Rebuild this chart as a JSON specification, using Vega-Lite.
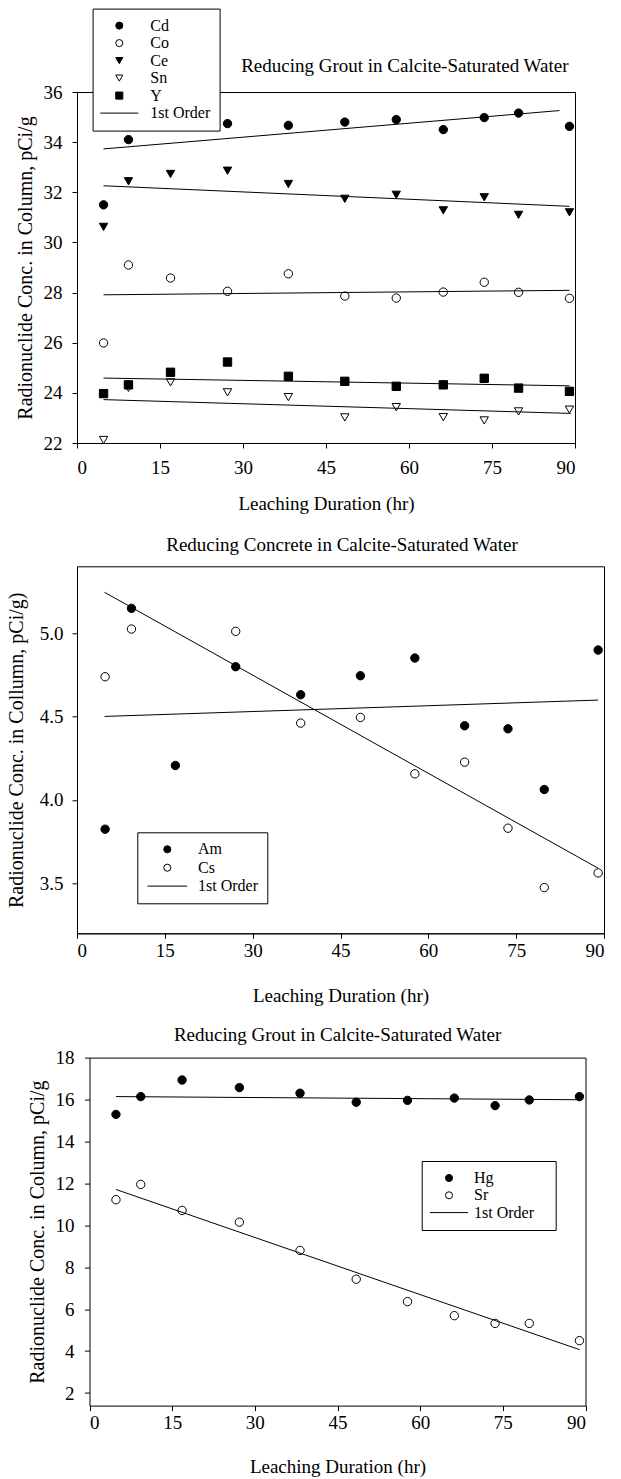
{
  "$schema": "https://vega.github.io/schema/vega-lite/v6.json",
  "background": "white",
  "padding": {"left": 5, "top": 7, "right": 0, "bottom": 0},
  "spacing": 19.3,
  "resolve": {"scale": {"shape": "independent", "fill": "independent", "stroke": "independent", "x": "independent", "y": "independent"}, "legend": {"shape": "independent", "fill": "independent", "stroke": "independent"}},
  "config": {
    "font": "Liberation Serif",
    "view": {"stroke": "black", "strokeWidth": 1},
    "axis": {"grid": false, "domainColor": "black", "tickColor": "black", "labelColor": "black", "titleColor": "black", "labelFont": "Liberation Serif", "titleFont": "Liberation Serif", "labelFontSize": 19, "titleFontSize": 19, "titleFontWeight": "normal", "tickSize": 5, "domainWidth": 1, "tickWidth": 1},
    "legend": {"labelFont": "Liberation Serif", "labelFontSize": 16, "labelColor": "black", "symbolStrokeWidth": 1, "fillColor": "white", "strokeColor": "black"},
    "title": {"font": "Liberation Serif", "fontSize": 19, "fontWeight": "normal", "color": "black", "frame": "group"}
  },
  "datasets": {
    "p1pts": [
      {"nuclide": "Cd", "hours": 4.8, "conc": 31.5}, {"nuclide": "Cd", "hours": 9.3, "conc": 34.1}, {"nuclide": "Cd", "hours": 27.2, "conc": 34.74}, {"nuclide": "Cd", "hours": 38.2, "conc": 34.67}, {"nuclide": "Cd", "hours": 48.4, "conc": 34.8}, {"nuclide": "Cd", "hours": 57.7, "conc": 34.9}, {"nuclide": "Cd", "hours": 66.2, "conc": 34.5}, {"nuclide": "Cd", "hours": 73.6, "conc": 34.98}, {"nuclide": "Cd", "hours": 79.8, "conc": 35.16}, {"nuclide": "Cd", "hours": 89.0, "conc": 34.63},
      {"nuclide": "Co", "hours": 4.8, "conc": 25.99}, {"nuclide": "Co", "hours": 9.3, "conc": 29.1}, {"nuclide": "Co", "hours": 16.9, "conc": 28.58}, {"nuclide": "Co", "hours": 27.2, "conc": 28.05}, {"nuclide": "Co", "hours": 38.2, "conc": 28.75}, {"nuclide": "Co", "hours": 48.4, "conc": 27.86}, {"nuclide": "Co", "hours": 57.7, "conc": 27.78}, {"nuclide": "Co", "hours": 66.2, "conc": 28.02}, {"nuclide": "Co", "hours": 73.6, "conc": 28.41}, {"nuclide": "Co", "hours": 79.8, "conc": 28.01}, {"nuclide": "Co", "hours": 89.0, "conc": 27.77},
      {"nuclide": "Ce", "hours": 4.8, "conc": 30.62}, {"nuclide": "Ce", "hours": 9.3, "conc": 32.44}, {"nuclide": "Ce", "hours": 16.9, "conc": 32.73}, {"nuclide": "Ce", "hours": 27.2, "conc": 32.86}, {"nuclide": "Ce", "hours": 38.2, "conc": 32.33}, {"nuclide": "Ce", "hours": 48.4, "conc": 31.74}, {"nuclide": "Ce", "hours": 57.7, "conc": 31.9}, {"nuclide": "Ce", "hours": 66.2, "conc": 31.28}, {"nuclide": "Ce", "hours": 73.6, "conc": 31.8}, {"nuclide": "Ce", "hours": 79.8, "conc": 31.1}, {"nuclide": "Ce", "hours": 89.0, "conc": 31.2},
      {"nuclide": "Sn", "hours": 4.8, "conc": 22.12}, {"nuclide": "Sn", "hours": 9.3, "conc": 24.2}, {"nuclide": "Sn", "hours": 16.9, "conc": 24.42}, {"nuclide": "Sn", "hours": 27.2, "conc": 24.02}, {"nuclide": "Sn", "hours": 38.2, "conc": 23.83}, {"nuclide": "Sn", "hours": 48.4, "conc": 23.02}, {"nuclide": "Sn", "hours": 57.7, "conc": 23.43}, {"nuclide": "Sn", "hours": 66.2, "conc": 23.03}, {"nuclide": "Sn", "hours": 73.6, "conc": 22.9}, {"nuclide": "Sn", "hours": 79.8, "conc": 23.26}, {"nuclide": "Sn", "hours": 89.0, "conc": 23.33},
      {"nuclide": "Y", "hours": 4.8, "conc": 23.97}, {"nuclide": "Y", "hours": 9.3, "conc": 24.32}, {"nuclide": "Y", "hours": 16.9, "conc": 24.82}, {"nuclide": "Y", "hours": 27.2, "conc": 25.23}, {"nuclide": "Y", "hours": 38.2, "conc": 24.66}, {"nuclide": "Y", "hours": 48.4, "conc": 24.46}, {"nuclide": "Y", "hours": 57.7, "conc": 24.26}, {"nuclide": "Y", "hours": 66.2, "conc": 24.32}, {"nuclide": "Y", "hours": 73.6, "conc": 24.58}, {"nuclide": "Y", "hours": 79.8, "conc": 24.19}, {"nuclide": "Y", "hours": 89.0, "conc": 24.06}
    ],
    "p1fit": [
      {"nuclide": "Cd", "hours": 4.8, "conc": 33.73}, {"nuclide": "Cd", "hours": 87.2, "conc": 35.26},
      {"nuclide": "Ce", "hours": 4.8, "conc": 32.26}, {"nuclide": "Ce", "hours": 89.0, "conc": 31.44},
      {"nuclide": "Co", "hours": 4.8, "conc": 27.91}, {"nuclide": "Co", "hours": 89.0, "conc": 28.09},
      {"nuclide": "Y", "hours": 4.8, "conc": 24.59}, {"nuclide": "Y", "hours": 89.0, "conc": 24.28},
      {"nuclide": "Sn", "hours": 4.8, "conc": 23.73}, {"nuclide": "Sn", "hours": 89.2, "conc": 23.18}
    ],
    "p2pts": [
      {"nuclide": "Am", "hours": 4.8, "conc": 3.824}, {"nuclide": "Am", "hours": 9.3, "conc": 5.148}, {"nuclide": "Am", "hours": 16.8, "conc": 4.206}, {"nuclide": "Am", "hours": 27.1, "conc": 4.798}, {"nuclide": "Am", "hours": 38.2, "conc": 4.63}, {"nuclide": "Am", "hours": 48.4, "conc": 4.744}, {"nuclide": "Am", "hours": 57.7, "conc": 4.85}, {"nuclide": "Am", "hours": 66.2, "conc": 4.444}, {"nuclide": "Am", "hours": 73.6, "conc": 4.426}, {"nuclide": "Am", "hours": 79.8, "conc": 4.062}, {"nuclide": "Am", "hours": 89.0, "conc": 4.898},
      {"nuclide": "Cs", "hours": 4.8, "conc": 4.738}, {"nuclide": "Cs", "hours": 9.3, "conc": 5.024}, {"nuclide": "Cs", "hours": 27.1, "conc": 5.01}, {"nuclide": "Cs", "hours": 38.2, "conc": 4.46}, {"nuclide": "Cs", "hours": 48.4, "conc": 4.494}, {"nuclide": "Cs", "hours": 57.7, "conc": 4.156}, {"nuclide": "Cs", "hours": 66.2, "conc": 4.226}, {"nuclide": "Cs", "hours": 73.6, "conc": 3.83}, {"nuclide": "Cs", "hours": 79.8, "conc": 3.474}, {"nuclide": "Cs", "hours": 89.0, "conc": 3.562}
    ],
    "p2fit": [
      {"nuclide": "Am", "hours": 4.7, "conc": 4.5}, {"nuclide": "Am", "hours": 89.0, "conc": 4.598},
      {"nuclide": "Cs", "hours": 4.7, "conc": 5.244}, {"nuclide": "Cs", "hours": 89.0, "conc": 3.59}
    ],
    "p3pts": [
      {"nuclide": "Hg", "hours": 4.8, "conc": 15.29}, {"nuclide": "Hg", "hours": 9.3, "conc": 16.14}, {"nuclide": "Hg", "hours": 16.8, "conc": 16.93}, {"nuclide": "Hg", "hours": 27.2, "conc": 16.57}, {"nuclide": "Hg", "hours": 38.2, "conc": 16.3}, {"nuclide": "Hg", "hours": 48.4, "conc": 15.87}, {"nuclide": "Hg", "hours": 57.7, "conc": 15.96}, {"nuclide": "Hg", "hours": 66.2, "conc": 16.07}, {"nuclide": "Hg", "hours": 73.6, "conc": 15.71}, {"nuclide": "Hg", "hours": 79.8, "conc": 15.98}, {"nuclide": "Hg", "hours": 88.9, "conc": 16.14},
      {"nuclide": "Sr", "hours": 4.8, "conc": 11.22}, {"nuclide": "Sr", "hours": 9.3, "conc": 11.95}, {"nuclide": "Sr", "hours": 16.8, "conc": 10.71}, {"nuclide": "Sr", "hours": 27.2, "conc": 10.15}, {"nuclide": "Sr", "hours": 38.2, "conc": 8.8}, {"nuclide": "Sr", "hours": 48.4, "conc": 7.43}, {"nuclide": "Sr", "hours": 57.7, "conc": 6.36}, {"nuclide": "Sr", "hours": 66.2, "conc": 5.69}, {"nuclide": "Sr", "hours": 73.6, "conc": 5.32}, {"nuclide": "Sr", "hours": 79.8, "conc": 5.32}, {"nuclide": "Sr", "hours": 88.9, "conc": 4.5}
    ],
    "p3fit": [
      {"nuclide": "Hg", "hours": 4.8, "conc": 16.14}, {"nuclide": "Hg", "hours": 88.9, "conc": 15.99},
      {"nuclide": "Sr", "hours": 4.8, "conc": 11.71}, {"nuclide": "Sr", "hours": 88.9, "conc": 4.07}
    ]
  },
  "vconcat": [
    {
      "title": {"text": "Reducing Grout in Calcite-Saturated Water", "anchor": "end", "dx": -6.5, "offset": -67.7},
      "width": 498,
      "height": 351,
      "layer": [
        {
          "data": {"name": "p1pts"},
          "mark": {"type": "point", "size": 70, "strokeWidth": 1, "opacity": 1},
          "encoding": {
            "x": {"field": "hours", "type": "quantitative", "scale": {"domain": [0, 90], "nice": false, "zero": false}, "axis": {"values": [0, 15, 30, 45, 60, 75, 90], "labelPadding": 10, "titlePadding": 17, "titleLineHeight": 2}, "title": ["Leaching Duration (hr)", ""]},
            "y": {"field": "conc", "type": "quantitative", "scale": {"domain": [22, 36], "nice": false, "zero": false}, "axis": {"values": [22, 24, 26, 28, 30, 32, 34, 36], "labelPadding": 10, "titlePadding": 8, "titleFontSize": 20}, "title": "Radionuclide Conc. in Column, pCi/g"},
            "shape": {"field": "nuclide", "type": "nominal", "scale": {"domain": ["Cd", "Co", "Ce", "Sn", "Y", "1st Order"], "range": ["circle", "circle", "triangle-down", "triangle-down", "square", "M-5.4,0L5.4,0"]},
              "legend": {"title": null, "orient": "none", "legendX": 15.6, "legendY": -83.4, "padding": 9, "symbolOffset": 9.7, "labelOffset": 23, "symbolSize": 50, "symbolStrokeWidth": 1, "rowPadding": 1.5}},
            "fill": {"field": "nuclide", "type": "nominal", "scale": {"domain": ["Cd", "Co", "Ce", "Sn", "Y", "1st Order"], "range": ["black", "white", "black", "white", "black", "transparent"]},
              "legend": {"title": null, "orient": "none", "legendX": 15.6, "legendY": -83.4, "padding": 9, "symbolOffset": 9.7, "labelOffset": 23, "symbolSize": 50, "symbolStrokeWidth": 1, "rowPadding": 1.5}},
            "stroke": {"field": "nuclide", "type": "nominal", "scale": {"domain": ["Cd", "Co", "Ce", "Sn", "Y", "1st Order"], "range": ["black", "black", "black", "black", "black", "black"]},
              "legend": {"title": null, "orient": "none", "legendX": 15.6, "legendY": -83.4, "padding": 9, "symbolOffset": 9.7, "labelOffset": 23, "symbolSize": 50, "symbolStrokeWidth": 1, "rowPadding": 1.5}}
          }
        },
        {
          "data": {"name": "p1fit"},
          "mark": {"type": "line", "stroke": "black", "strokeWidth": 1},
          "encoding": {
            "x": {"field": "hours", "type": "quantitative"},
            "y": {"field": "conc", "type": "quantitative"},
            "detail": {"field": "nuclide", "type": "nominal"}
          }
        }
      ]
    },
    {
      "title": {"text": "Reducing Concrete in Calcite-Saturated Water", "anchor": "middle", "dx": 1.5, "offset": 11},
      "width": 527,
      "height": 367,
      "layer": [
        {
          "data": {"name": "p2pts"},
          "mark": {"type": "point", "size": 70, "strokeWidth": 1, "opacity": 1},
          "encoding": {
            "x": {"field": "hours", "type": "quantitative", "scale": {"domain": [0, 90], "nice": false, "zero": false}, "axis": {"values": [0, 15, 30, 45, 60, 75, 90], "labelPadding": 3, "titlePadding": 26}, "title": "Leaching Duration (hr)"},
            "y": {"field": "conc", "type": "quantitative", "scale": {"domain": [3.2, 5.4], "nice": false, "zero": false}, "axis": {"values": [3.5, 4.0, 4.5, 5.0], "format": ".1f", "labelPadding": 9, "titlePadding": 13, "titleFontSize": 20}, "title": "Radionuclide Conc. in Collumn, pCi/g)"},
            "shape": {"field": "nuclide", "type": "nominal", "scale": {"domain": ["Am", "Cs", "1st Order"], "range": ["circle", "circle", "M-5.6,0L5.6,0"]},
              "legend": {"title": null, "orient": "none", "legendX": 60.3, "legendY": 266, "padding": 9, "symbolOffset": 13, "labelOffset": 22.7, "symbolSize": 50, "symbolStrokeWidth": 1, "rowPadding": 2.4}},
            "fill": {"field": "nuclide", "type": "nominal", "scale": {"domain": ["Am", "Cs", "1st Order"], "range": ["black", "white", "transparent"]},
              "legend": {"title": null, "orient": "none", "legendX": 60.3, "legendY": 266, "padding": 9, "symbolOffset": 13, "labelOffset": 22.7, "symbolSize": 50, "symbolStrokeWidth": 1, "rowPadding": 2.4}},
            "stroke": {"field": "nuclide", "type": "nominal", "scale": {"domain": ["Am", "Cs", "1st Order"], "range": ["black", "black", "black"]},
              "legend": {"title": null, "orient": "none", "legendX": 60.3, "legendY": 266, "padding": 9, "symbolOffset": 13, "labelOffset": 22.7, "symbolSize": 50, "symbolStrokeWidth": 1, "rowPadding": 2.4}}
          }
        },
        {
          "data": {"name": "p2fit"},
          "mark": {"type": "line", "stroke": "black", "strokeWidth": 1},
          "encoding": {
            "x": {"field": "hours", "type": "quantitative"},
            "y": {"field": "conc", "type": "quantitative"},
            "detail": {"field": "nuclide", "type": "nominal"}
          }
        }
      ]
    },
    {
      "title": {"text": "Reducing Grout in Calcite-Saturated Water", "anchor": "middle", "dx": 6.3, "offset": 4},
      "width": 508.5,
      "height": 348,
      "view": {"stroke": null},
      "resolve": {"axis": {"x": "independent", "y": "independent"}},
      "layer": [
        {
          "data": {"name": "p3pts"},
          "mark": {"type": "point", "size": 70, "strokeWidth": 1, "opacity": 1},
          "encoding": {
            "x": {"field": "hours", "type": "quantitative", "scale": {"domain": [0, 90], "nice": false, "zero": false, "range": [12.5, 508.5]}, "axis": {"orient": "bottom", "values": [0, 15, 30, 45, 60, 75, 90], "labelPadding": 3, "titlePadding": 24.5}, "title": "Leaching Duration (hr)"},
            "y": {"field": "conc", "type": "quantitative", "scale": {"domain": [1.4, 18], "nice": false, "zero": false}, "axis": {"orient": "left", "values": [2, 4, 6, 8, 10, 12, 14, 16, 18], "offset": -12.5, "labelPadding": 10.5, "titlePadding": 8, "titleFontSize": 20}, "title": "Radionuclide Conc. in Column, pCi/g"},
            "shape": {"field": "nuclide", "type": "nominal", "scale": {"domain": ["Hg", "Sr", "1st Order"], "range": ["circle", "circle", "M-5.4,0L5.4,0"]},
              "legend": {"title": null, "orient": "none", "legendX": 344.7, "legendY": 103.4, "padding": 9, "symbolOffset": 10.3, "labelOffset": 17, "symbolSize": 50, "symbolStrokeWidth": 1, "rowPadding": 1.3, "labelExpr": "datum.label + '\u2800'"}},
            "fill": {"field": "nuclide", "type": "nominal", "scale": {"domain": ["Hg", "Sr", "1st Order"], "range": ["black", "white", "transparent"]},
              "legend": {"title": null, "orient": "none", "legendX": 344.7, "legendY": 103.4, "padding": 9, "symbolOffset": 10.3, "labelOffset": 17, "symbolSize": 50, "symbolStrokeWidth": 1, "rowPadding": 1.3, "labelExpr": "datum.label + '\u2800'"}},
            "stroke": {"field": "nuclide", "type": "nominal", "scale": {"domain": ["Hg", "Sr", "1st Order"], "range": ["black", "black", "black"]},
              "legend": {"title": null, "orient": "none", "legendX": 344.7, "legendY": 103.4, "padding": 9, "symbolOffset": 10.3, "labelOffset": 17, "symbolSize": 50, "symbolStrokeWidth": 1, "rowPadding": 1.3, "labelExpr": "datum.label + '\u2800'"}}
          }
        },
        {
          "data": {"name": "p3fit"},
          "mark": {"type": "line", "stroke": "black", "strokeWidth": 1},
          "encoding": {
            "x": {"field": "hours", "type": "quantitative", "axis": {"orient": "top", "ticks": false, "labels": false, "title": null, "grid": false, "minExtent": 0, "maxExtent": 0}},
            "y": {"field": "conc", "type": "quantitative", "axis": {"orient": "right", "ticks": false, "labels": false, "title": null, "grid": false, "minExtent": 0, "maxExtent": 0}},
            "detail": {"field": "nuclide", "type": "nominal"}
          }
        }
      ]
    }
  ]
}
